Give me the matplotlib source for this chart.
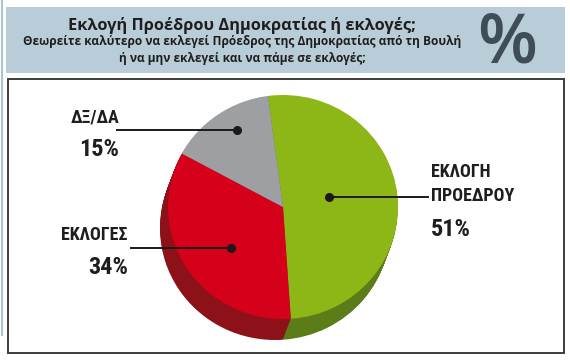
import matplotlib
matplotlib.use("Agg")
import matplotlib.pyplot as plt
from matplotlib.patches import Rectangle

# Δεδομένα
labels = ["ΕΚΛΟΓΗ\nΠΡΟΕΔΡΟΥ", "ΕΚΛΟΓΕΣ", "ΔΞ/ΔΑ"]
values = [51, 34, 15]
top_colors = ["#8db617", "#d5001a", "#9d9fa2"]
side_colors = ["#5b7c19", "#8d1118", "#6e7073"]

title = "Εκλογή Προέδρου Δημοκρατίας ή εκλογές;"
subtitle = ("Θεωρείτε καλύτερο να εκλεγεί Πρόεδρος της Δημοκρατίας από τη Βουλή\n"
            "ή να μην εκλεγεί και να πάμε σε εκλογές;")

W, H = 570, 360
fig = plt.figure(figsize=(W / 100, H / 100), dpi=100)

# pie axes: top face centred at (283, 207), rx 115, ry 112 px
cx, cy, rx, ry = 283, 207, 115, 112
half = 150
pa = fig.add_axes([(cx - half) / W, 1 - (cy + half) / H, 2 * half / W, 2 * half / H])

# side of the 3D pie: stacked darker copies shifted down-left
depth_x, depth_y = -8 / rx, -21 / ry
n = 30
for i in range(n, 0, -1):
    t = i / n
    pa.pie(values, colors=side_colors, startangle=97.5, counterclock=False,
           center=(depth_x * t, depth_y * t), radius=1, frame=True,
           wedgeprops=dict(linewidth=0))
pa.pie(values, colors=top_colors, startangle=97.5, counterclock=False,
       center=(0, 0), radius=1, frame=True, wedgeprops=dict(linewidth=0))
pa.set_aspect("auto")
pa.set_xlim(-half / rx, half / rx)
pa.set_ylim(-half / ry, half / ry)
pa.axis("off")

# overlay axes in pixel coordinates
bg = fig.add_axes([0, 0, 1, 1])
bg.set_xlim(0, W)
bg.set_ylim(H, 0)
bg.axis("off")

bg.add_patch(Rectangle((6, 7), 559, 66, facecolor="#b9cdd9", edgecolor="none"))
bg.add_patch(Rectangle((8, 79), 556, 274, fill=False, edgecolor="#3c3c3c", lw=1.4))
bg.plot([1.5, 1.5], [0, 335], color="#a9c4d0", lw=1.5)

bg.text(242, 25, title, ha="center", va="center", fontsize=11.8,
        fontweight="bold", family="Open Sans", color="#1e1e1e")
bg.text(242, 50, subtitle, ha="center", va="center", fontsize=8.6,
        fontweight="bold", family="Open Sans", color="#1e1e1e", linespacing=1.4)
bg.text(507, 45, "%", ha="center", va="center", fontsize=50,
        family="Open Sans", fontweight="semibold", color="#3e4d58")

# leader lines and labels (pixel layout)
dots = [(329, 197), (231, 248), (237, 130)]
line_ends = [428, 131, 117]
name_pos = [(431, 184, "left"), (128, 235, "right"), (119, 117, "right")]
pct_pos = [(431, 229, "left"), (128, 268, "right"), (119, 149, "right")]
font = ["Roboto Condensed", "DejaVu Sans"]

for k in range(len(values)):
    dx, dy = dots[k]
    bg.plot([dx, line_ends[k]], [dy, dy], color="#1a1a1a", lw=1.4, zorder=5)
    bg.plot(dx, dy, "o", color="#1a1a1a", ms=5.5, zorder=6)
    x, y, ha = name_pos[k]
    bg.text(x, y, labels[k], ha=ha, va="center", fontsize=13, fontweight="bold",
            fontstretch="condensed", family=font, color="#1e1e1e", linespacing=1.45)
    x, y, ha = pct_pos[k]
    bg.text(x, y, f"{values[k]}%", ha=ha, va="center", fontsize=17.5, fontweight="bold",
            fontstretch="condensed", family=font, color="#1e1e1e")

fig.savefig("out.png", dpi=100)
